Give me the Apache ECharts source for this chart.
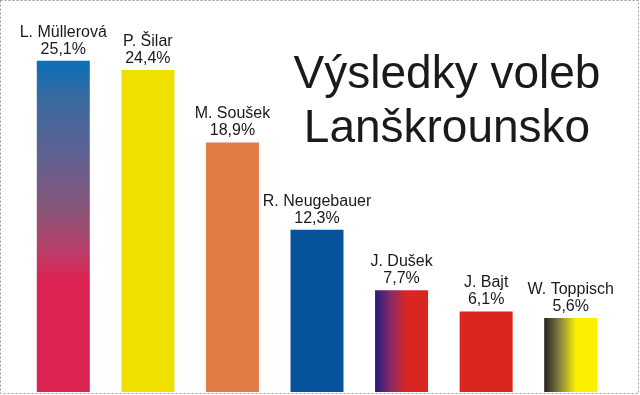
<!DOCTYPE html>
<html>
<head>
<meta charset="utf-8">
<script src="https://cdn.jsdelivr.net/npm/echarts@6/dist/echarts.min.js"></script>
<style>
html,body{margin:0;padding:0;background:#fff;}
#chart{width:640px;height:395px;}
</style>
</head>
<body>
<div id="chart"></div>
<script>
var candidates = ['L. Müllerová', 'P. Šilar', 'M. Soušek', 'R. Neugebauer', 'J. Dušek', 'J. Bajt', 'W. Toppisch'];
var percentages = [25.1, 24.4, 18.9, 12.3, 7.7, 6.1, 5.6];
var titleLines = ['Výsledky voleb', 'Lanškrounsko'];

var G = echarts.graphic.LinearGradient;
var barColors = [
  new G(0, 0, 0, 1, [
    {offset: 0, color: '#0a6fb8'},
    {offset: 0.12, color: '#3b6aa0'},
    {offset: 0.3, color: '#636090'},
    {offset: 0.45, color: '#8a5578'},
    {offset: 0.57, color: '#b8406a'},
    {offset: 0.66, color: '#dc2352'},
    {offset: 1, color: '#dc2352'}
  ]),
  '#f0e000',
  '#e27b45',
  '#06529b',
  new G(0, 0, 1, 0, [
    {offset: 0, color: '#281a80'},
    {offset: 0.3, color: '#8a2a64'},
    {offset: 0.6, color: '#da2622'},
    {offset: 1, color: '#da2622'}
  ]),
  '#da261e',
  new G(0, 0, 1, 0, [
    {offset: 0, color: '#222222'},
    {offset: 0.3, color: '#8a8540'},
    {offset: 0.6, color: '#fbf000'},
    {offset: 1, color: '#fbf000'}
  ])
];

function fmt(v) { return v.toFixed(1).replace('.', ',') + '%'; }

var chart = echarts.init(document.getElementById('chart'), null, {renderer: 'canvas'});
chart.setOption({
  backgroundColor: '#ffffff',
  animation: false,
  title: {
    text: titleLines.join('\n'),
    left: 442,
    top: 43,
    textAlign: 'center',
    textStyle: {
      fontFamily: 'Liberation Sans, Arial, sans-serif',
      fontSize: 46,
      fontWeight: 'normal',
      color: '#1a1a1a',
      lineHeight: 54
    }
  },
  grid: {left: 21, width: 592, top: 0, bottom: 3},
  xAxis: {
    type: 'category',
    data: candidates,
    show: false
  },
  yAxis: {
    type: 'value',
    min: 0,
    max: 29.7,
    show: false
  },
  series: [{
    type: 'bar',
    barWidth: 53,
    data: percentages.map(function (v, i) {
      return {value: v, itemStyle: {color: barColors[i]}};
    }),
    label: {
      show: true,
      position: 'top',
      distance: 3,
      fontFamily: 'Liberation Sans, Arial, sans-serif',
      fontSize: 16,
      lineHeight: 17,
      color: '#1a1a1a',
      formatter: function (p) { return p.name + '\n' + fmt(p.value); }
    }
  }],
  graphic: [{
    type: 'rect',
    shape: {x: 0.5, y: 0.5, width: 638, height: 393},
    style: {fill: null, stroke: '#9a9a9a', lineWidth: 1, lineDash: [2, 2]},
    silent: true,
    z: 100
  }]
});
</script>
</body>
</html>
